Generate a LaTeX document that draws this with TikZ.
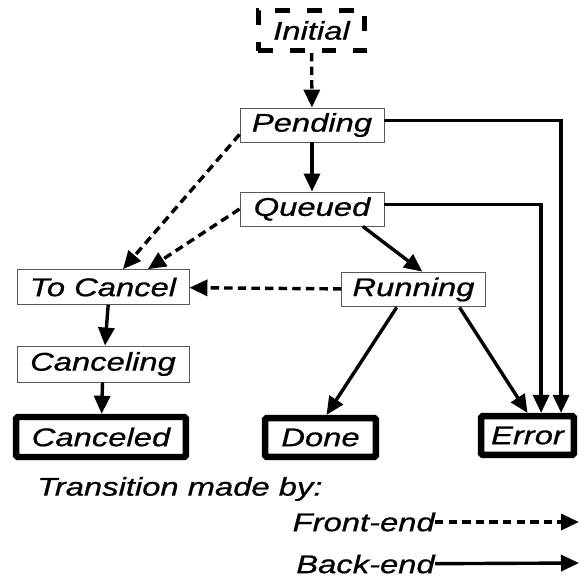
\documentclass[tikz,border=0pt]{standalone}
\usepackage{fontspec}
\setmainfont{Liberation Sans}[FakeStretch=1.28, FakeBold=0.8]
\usetikzlibrary{arrows.meta}

\begin{document}
\begin{tikzpicture}[
    x=0.025cm, y=-0.025cm,
    font=\fontsize{18.2}{21}\selectfont\itshape,
    box/.style={draw=black!65, line width=0.6pt, rectangle, inner sep=0pt},
    endbox/.style={draw, line width=0.16cm, rounded corners=1pt, rectangle, inner sep=0pt},
    arrow/.style={-{Triangle[length=0.45cm, width=0.4cm]}, line width=0.085cm},
    farrow/.style={arrow, dash pattern=on 0.21cm off 0.13cm},
    note/.style={inner sep=0pt}
]
    \useasboundingbox (0,0) rectangle (584,579);

    % start state
    \node[draw, line width=0.115cm, dash pattern=on 0.37cm off 0.42cm,
          minimum width=2.66cm, minimum height=1.01cm] (initial) at (311.5,30.5) {Initial};

    % intermediate states
    \node[box, minimum width=3.6cm, minimum height=0.85cm] (pending) at (312,125) {Pending};
    \node[box, minimum width=3.6cm, minimum height=0.85cm] (queued) at (312,209) {Queued};
    \node[box, minimum width=4.3cm, minimum height=0.87cm] (tocancel) at (103,287) {To Cancel};
    \node[box, minimum width=3.58cm, minimum height=0.87cm] (running) at (413.5,289.5) {Running};
    \node[box, minimum width=4.3cm, minimum height=0.9cm] (canceling) at (103,364) {Canceling};

    % final states
    \node[endbox, minimum width=4.24cm, minimum height=1.0cm] (canceled) at (101,437) {Canceled};
    \node[endbox, minimum width=2.77cm, minimum height=0.97cm] (done) at (320.5,437.5) {Done};
    \node[endbox, minimum width=2.32cm, minimum height=0.97cm] (error) at (527.5,435.5) {Error};

    % back-end transitions
    \draw[arrow] (pending) -- (queued);
    \draw[arrow] ([yshift=1.2mm]pending.east) -| ([xshift=0.84cm]error.north);
    \draw[arrow] ([yshift=1.2mm]queued.east) -| ([xshift=0.34cm]error.north);
    \draw[arrow] ([xshift=1.27cm]queued.south) -- ([xshift=0.22cm]running.north);
    \draw[arrow] ([xshift=-0.42cm]running.south) -- ([xshift=0.15cm]done.north);
    \draw[arrow] ([xshift=1.15cm]running.south) -- (error.north);
    \draw[arrow] ([xshift=0.13cm]tocancel.south) -- ([xshift=0.05cm]canceling.north);
    \draw[arrow] (canceling) -- (canceled);

    % front-end transitions
    \draw[farrow] (initial) -- (pending);
    \draw[farrow] ([yshift=2mm]pending.south west) -- ([xshift=0.5cm]tocancel.north);
    \draw[farrow] (queued.west) -- ([xshift=1.12cm]tocancel.north);
    \draw[farrow] (running) -- (tocancel);

    % legend
    \node[note, anchor=west] (legend) at (37,489) {Transition made by:};
    \node[note, anchor=east] (frontend) at (435,522) {Front-end};
    \node[note, anchor=east] (backend) at (435,564) {Back-end};
    \coordinate (frontend end) at (579,522);
    \coordinate (backend end) at (579,563);
    \draw[farrow] (frontend) -- (frontend end);
    \draw[arrow] (backend) -- (backend end);

\end{tikzpicture}
\end{document}
